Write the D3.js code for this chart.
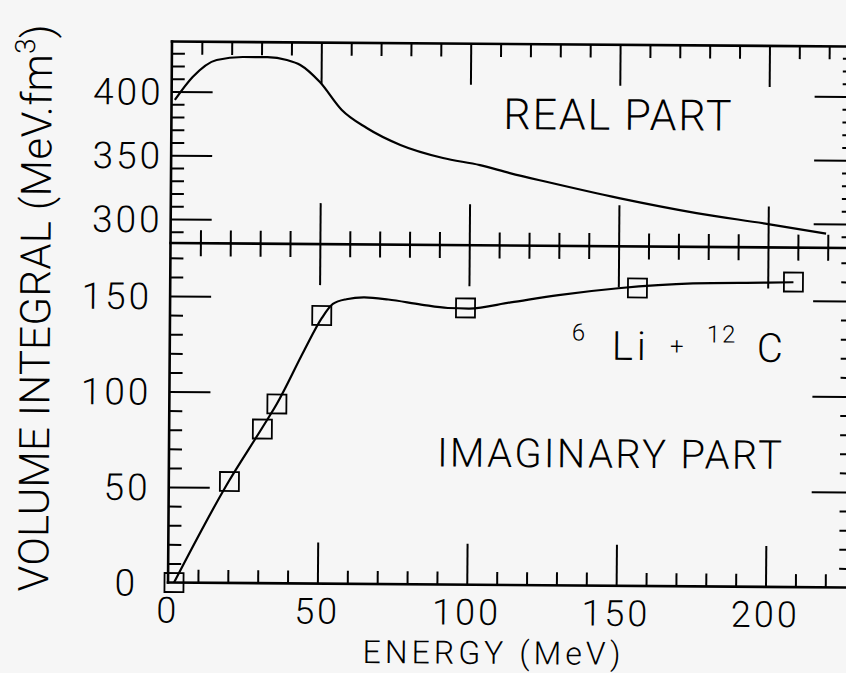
<!DOCTYPE html>
<html><head><meta charset="utf-8">
<script src="https://cdn.jsdelivr.net/npm/d3@7"></script>
<style>
html,body{margin:0;padding:0;background:#f6f6f6;}
svg{display:block;}
text{font-family:Roboto,"DejaVu Sans",sans-serif;font-weight:300;fill:#000;}
</style></head>
<body>
<svg id="chart" width="846" height="673"></svg>
<script>
// ---- data ----
const realEnergy = [1.1, 7, 15, 24, 32, 38.5, 43, 49.6, 57, 65.4, 76.7, 91, 103.4, 113.4, 126, 150, 176, 200, 219.4];
const realValue  = [393.4, 411.5, 425, 427.5, 427.5, 425.4, 421.6, 408.3, 386.5, 372.5, 359.4, 349.4, 344.1, 338, 331.2, 319, 307.7, 299.5, 292.3];

const imagCurveEnergy = [2, 20, 31, 36, 45, 50.8, 54.5, 59, 65, 73, 84, 93, 100, 114, 130, 150, 175, 200, 208.6];
const imagCurveValue  = [0, 53, 81, 94, 122, 139, 146.5, 149, 150, 149, 146.5, 144.8, 144.6, 148, 152, 155.8, 158.6, 159.3, 159.6];

const dataEnergy = [2, 20.3, 31.2, 36, 50.8, 98.9, 156.4, 208.6];
const dataValue  = [0, 53.1, 80.7, 93.9, 140.4, 144.9, 156, 159.7];

const xTickLabels = [0, 50, 100, 150, 200];
const yTopTickLabels = [300, 350, 400];
const yBotTickLabels = [0, 50, 100, 150];

// ---- layout ----
const L = 170, R = 854, T = 44, M = 245.5, B = 585;
const svg = d3.select("#chart");
svg.append("rect").attr("width",846).attr("height",673).attr("fill","#f6f6f6");
const g = svg.append("g").attr("transform","rotate(0.42,508,315)");

const x = d3.scaleLinear().domain([0,200]).range([L, 767.5]);
const yTop = d3.scaleLinear().domain([300,400]).range([221.5, 94]);
const yBot = d3.scaleLinear().domain([0,150]).range([B, 298.5]);

const xMax = x.invert(R);
const xMinor = d3.range(10, xMax, 10).filter(v => v % 50 !== 0);
const xMajor = d3.range(50, xMax, 50);
const yTopMax = yTop.invert(T), yTopMin = yTop.invert(M);
const yTopMinor = d3.range(Math.ceil(yTopMin/10)*10, yTopMax, 10).filter(v => v % 50 !== 0);
const yTopMajor = yTopTickLabels;
const yBotMax = yBot.invert(M);
const yBotMinor = d3.range(10, yBotMax, 10).filter(v => v % 50 !== 0);
const yBotMajor = yBotTickLabels.filter(v => v > 0);

function axisLayer(gen, pos, vals, size){
  const a = g.append("g").attr("transform", pos)
    .call(gen.tickValues(vals).tickSize(size).tickFormat(""));
  a.select(".domain").remove();
  a.selectAll(".tick line").attr("stroke","#000").attr("stroke-width",2);
  return a;
}
const minorLen = 13, majorLen = 41;
// bottom axis (ticks up)
axisLayer(d3.axisTop(x), `translate(0,${B})`, xMinor, minorLen);
axisLayer(d3.axisTop(x), `translate(0,${B})`, xMajor, majorLen);
// middle axis (ticks both ways)
axisLayer(d3.axisTop(x), `translate(0,${M})`, xMinor, minorLen);
axisLayer(d3.axisBottom(x), `translate(0,${M})`, xMinor, minorLen);
axisLayer(d3.axisTop(x), `translate(0,${M})`, xMajor, majorLen);
axisLayer(d3.axisBottom(x), `translate(0,${M})`, xMajor, majorLen);
// top axis (ticks down)
axisLayer(d3.axisBottom(x), `translate(0,${T})`, xMinor, minorLen);
axisLayer(d3.axisBottom(x), `translate(0,${T})`, xMajor, majorLen);
// left axes (ticks right)
axisLayer(d3.axisRight(yTop), `translate(${L},0)`, yTopMinor, minorLen);
axisLayer(d3.axisRight(yTop), `translate(${L},0)`, yTopMajor, majorLen);
axisLayer(d3.axisRight(yBot), `translate(${L},0)`, yBotMinor, minorLen);
axisLayer(d3.axisRight(yBot), `translate(${L},0)`, yBotMajor, majorLen);
// right axes (ticks left)
axisLayer(d3.axisLeft(yTop), `translate(${R},0)`, yTopMinor, minorLen);
axisLayer(d3.axisLeft(yTop), `translate(${R},0)`, yTopMajor, majorLen);
axisLayer(d3.axisLeft(yBot), `translate(${R},0)`, yBotMinor, minorLen);
axisLayer(d3.axisLeft(yBot), `translate(${R},0)`, yBotMajor, majorLen);

// frame lines
const frame = [[L,T,R,T],[L,M,R,M],[L,B,R,B],[L,T,L,B],[R,T,R,B]];
g.selectAll("line.frame").data(frame).join("line").attr("class","frame")
  .attr("x1",d=>d[0]).attr("y1",d=>d[1]).attr("x2",d=>d[2]).attr("y2",d=>d[3])
  .attr("stroke","#000").attr("stroke-width",2.6).attr("stroke-linecap","square");

// curves
const realPts = realEnergy.map((e,i)=>[e, realValue[i]]);
const imagPts = imagCurveEnergy.map((e,i)=>[e, imagCurveValue[i]]);
g.append("path").datum(realPts)
  .attr("d", d3.line().x(d=>x(d[0])).y(d=>yTop(d[1])).curve(d3.curveMonotoneX))
  .attr("fill","none").attr("stroke","#000").attr("stroke-width",2.2);
g.append("path").datum(imagPts)
  .attr("d", d3.line().x(d=>x(d[0])).y(d=>yBot(d[1])).curve(d3.curveMonotoneX))
  .attr("fill","none").attr("stroke","#000").attr("stroke-width",2.2);

// data squares
const sq = 19;
g.selectAll("rect.pt").data(dataEnergy.map((e,i)=>[e,dataValue[i]])).join("rect")
  .attr("class","pt")
  .attr("x", d=>x(d[0]) - sq/2).attr("y", d=>yBot(d[1]) - sq/2)
  .attr("width", sq).attr("height", sq)
  .attr("fill","none").attr("stroke","#000").attr("stroke-width",1.8);

// tick labels
const tickFont = 37;
g.selectAll("text.xl").data(xTickLabels).join("text").attr("class","xl")
  .attr("x", d=>x(d)).attr("y", B + 40)
  .attr("text-anchor","middle").attr("font-size",36).attr("letter-spacing",3)
  .text(d=>d);
g.selectAll("text.ytl").data(yTopTickLabels).join("text").attr("class","ytl")
  .attr("x", L - 8).attr("y", d=>yTop(d))
  .attr("dy","0.36em").attr("text-anchor","end").attr("font-size",tickFont).attr("letter-spacing",3)
  .text(d=>d);
g.selectAll("text.ybl").data(yBotTickLabels).join("text").attr("class","ybl")
  .attr("x", d=> d === 0 ? L - 30 : L - 18).attr("y", d=>yBot(d))
  .attr("dy","0.36em").attr("text-anchor","end").attr("font-size",tickFont).attr("letter-spacing",3)
  .text(d=>d);

// axis titles
g.append("text").attr("x", 494).attr("y", 664).attr("text-anchor","middle")
  .attr("font-size",32).attr("textLength",258).attr("lengthAdjust","spacing")
  .text("ENERGY (MeV)");
const yl = g.append("text").attr("transform","translate(50,595) rotate(-90)")
  .attr("font-size",42).attr("letter-spacing",0.3);
yl.append("tspan").text("VOLUME INTEGRAL (MeV.fm");
yl.append("tspan").attr("font-size",28).attr("dy",-17).text("3");
yl.append("tspan").attr("dy",17).text(")");

// panel labels
g.append("text").attr("x",502).attr("y",129).attr("font-size",43)
  .attr("textLength",228).attr("lengthAdjust","spacing").text("REAL PART");
g.append("text").attr("x",438).attr("y",467).attr("font-size",40)
  .attr("textLength",345).attr("lengthAdjust","spacing").text("IMAGINARY PART");

// reaction label
g.append("text").attr("x",572).attr("y",340).attr("font-size",24).text("6");
g.append("text").attr("x",612).attr("y",359).attr("font-size",40).attr("letter-spacing",4).text("Li");
g.append("text").attr("x",677).attr("y",353).attr("text-anchor","middle").attr("font-size",24).text("+");
g.append("text").attr("x",707).attr("y",341).attr("font-size",24).attr("letter-spacing",2).text("12");
g.append("text").attr("x",757).attr("y",360).attr("font-size",40).text("C");
</script>
</body></html>
